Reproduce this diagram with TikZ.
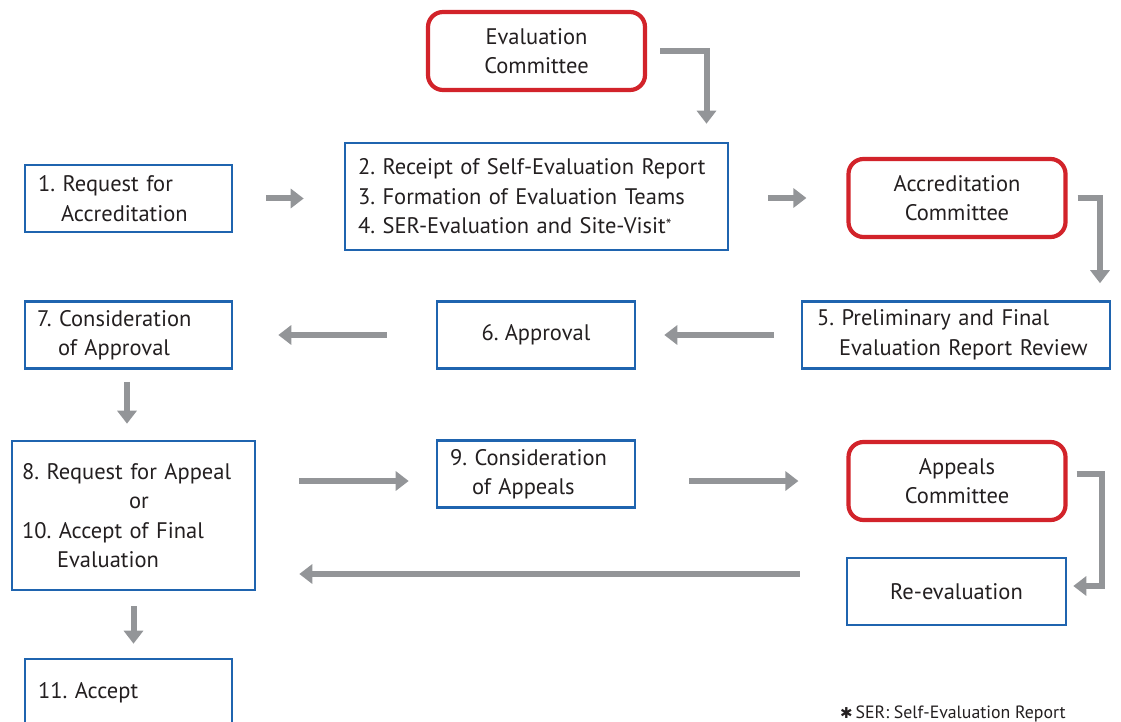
\documentclass[tikz,border=0pt]{standalone}
\usepackage{fontspec}
\setmainfont{PT Sans}
\newfontfamily\symfont{DejaVu Sans}
\usetikzlibrary{arrows.meta}
\definecolor{bblue}{HTML}{1F64AF}
\definecolor{rred}{HTML}{D2232A}
\definecolor{agray}{HTML}{939598}
\definecolor{txt}{HTML}{231F20}
\tikzset{
  x=1pt,y=-1pt,
  every node/.style={text=txt,font=\fontsize{22.5}{29.5}\selectfont},
  bluebox/.style={draw=bblue,line width=2.6pt,inner sep=0pt,minimum height=67pt},
  redbox/.style={draw=rred,line width=4.2pt,rounded corners=15pt,inner sep=0pt,align=center,minimum width=217pt,minimum height=78pt},
  arr/.style={draw=agray,line width=6pt,-{Triangle[width=19pt,length=13pt]}},
}
\newcommand{\ind}[1]{\hspace*{#1pt}}
\begin{document}
\frenchspacing
\begin{tikzpicture}
\useasboundingbox (0,0) rectangle (1121,722);
% committees
\node[redbox] (ec) at (536.5,51) {Evaluation\\Committee};
\node[redbox] (ac) at (957,198) {Accreditation\\Committee};
\node[redbox] (apc) at (957,481) {Appeals\\Committee};
% blue boxes
\node[bluebox,minimum width=207pt,text width=181pt,align=left] (b1) at (128.5,198.5) {1. Request for\\\ind{23}Accreditation};
\node[bluebox,minimum width=383pt,minimum height=107pt,text width=357pt,align=left] (b2) at (536.5,196.5) {2. Receipt of Self-Evaluation Report\\3. Formation of Evaluation Teams\\4. SER-Evaluation and Site-Visit\raisebox{3pt}{\fontsize{16}{16}\selectfont*}};
\node[bluebox,minimum width=308pt,text width=278pt,align=left] (b5) at (956,335) {5. Preliminary and Final\\\ind{22}Evaluation Report Review};
\node[bluebox,minimum width=198pt,align=center] (b6) at (536,335) {6. Approval};
\node[bluebox,minimum width=207pt,text width=183pt,align=left] (b7) at (128.5,335) {7. Consideration\\\ind{21}of Approval};
\node[bluebox,minimum width=243pt,minimum height=149pt,text width=223pt,align=left] (b8) at (133.5,515.5) {8. Request for Appeal\\\ind{107}or\\10. Accept of Final\\\ind{35}Evaluation};
\node[bluebox,minimum width=198pt,text width=172pt,align=left] (b9) at (536,474) {9. Consideration\\\ind{22}of Appeals};
\node[bluebox,minimum width=219pt,align=center] (re) at (956.5,591.5) {Re-evaluation};
\node[bluebox,minimum width=207pt,text width=181pt,align=left] (b11) at (128.5,692.5) {11. Accept};
% footnote
\node[anchor=base west,font=\fontsize{17.8}{18}\selectfont,inner sep=0pt] (fn) at (840,718) {{\symfont\fontsize{15}{15}\selectfont ✱}\,SER: Self-Evaluation Report};
% arrows
\draw[arr] ([xshift=13pt]ec.east) -| ([xshift=170pt,yshift=18pt]b2.north);
\draw[arr] ([xshift=33pt]b1.east) -- ([xshift=-40pt]b2.west |- b1.east);
\draw[arr] ([xshift=39pt]b2.east |- ac) -- ([xshift=-40pt]ac.west);
\draw[arr] ([xshift=10pt]ac.east) -| ([xshift=144pt,yshift=17pt]b5.north);
\draw[arr] ([xshift=-27pt]b5.west) -- ([xshift=28pt]b6.east);
\draw[arr] ([xshift=-49pt]b6.west) -- ([xshift=45pt]b7.east);
\draw[arr] ([xshift=-1.5pt,yshift=-12pt]b7.south) -- ([xshift=-1.5pt,yshift=16pt]b8.north -| b7.south);
\draw[arr] ([xshift=43pt,yshift=-7pt]b8.east |- b9) -- ([xshift=-27pt,yshift=-7pt]b9.west);
\draw[arr] ([xshift=53pt]b9.east |- apc) -- ([xshift=-48pt]apc.west);
\draw[arr] ([xshift=9pt,yshift=7pt]apc.east) -- ++(25,0) |- ([xshift=6pt,yshift=5.5pt]re.east);
\draw[arr] ([xshift=-46pt,yshift=17.5pt]re.west) coordinate (r1) -- ([xshift=43pt]b8.east |- r1);
\draw[arr] ([yshift=-15pt]b8.south) -- ([yshift=14pt]b11.north -| b8.south);
\end{tikzpicture}
\end{document}
